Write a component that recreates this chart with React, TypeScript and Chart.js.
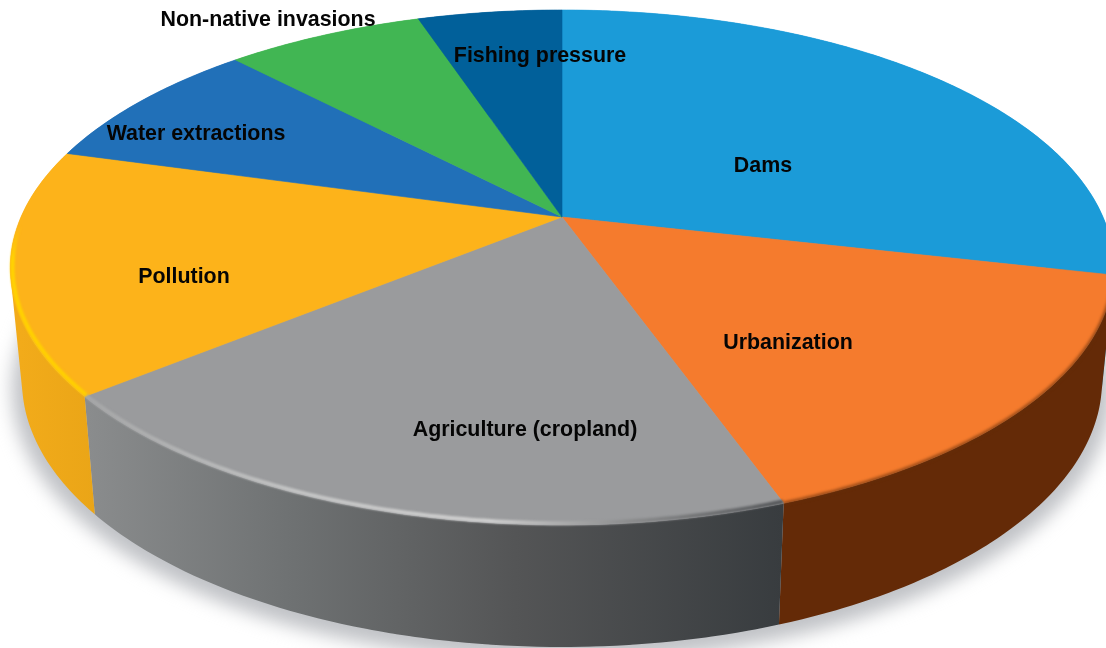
import { useEffect, useRef } from "react";
import { Chart, PieController, ArcElement } from "chart.js";

Chart.register(PieController, ArcElement);

// Share of pressure on freshwater systems, clockwise from twelve o'clock.
const categories = [
  "Dams",
  "Urbanization",
  "Agriculture (cropland)",
  "Pollution",
  "Water extractions",
  "Non-native invasions",
  "Fishing pressure",
];
const shares = [28.6, 15.98, 19.47, 15.3, 8.55, 7.0, 5.1];
const topColors = ["#1b9bd8", "#f57b2d", "#9a9b9d", "#fdb31a", "#2170b8", "#41b653", "#01609a"];

// Where each category name sits on the page.
const labelCentres: [number, number][] = [
  [763, 166.5],
  [788, 343.5],
  [525, 430],
  [184, 277.5],
  [196, 134],
  [268, 20],
  [540, 56.5],
];

// Tilted-disc geometry: a homography takes the unit circle to the top ellipse,
// so the pie's apex lands above the ellipse's centre.
const APEX = { x: 562, y: 217 };
const TILT = -0.196;
const SCALE_X = 541;
const SCALE_Y = 247.6;
const TOP = { cy: 267.5, rx: SCALE_X / Math.sqrt(1 - TILT * TILT), ry: 257.5 };
const BASE = { cy: 381, rx: 540, ry: 266 };

type Pt = { x: number; y: number };

function topPoint(theta: number): Pt {
  const u = Math.sin(theta);
  const v = -Math.cos(theta);
  const w = 1 + TILT * v;
  return { x: APEX.x + (SCALE_X * u) / w, y: APEX.y + (SCALE_Y * v) / w };
}

function basePoint(theta: number): Pt {
  const p = topPoint(theta);
  return {
    x: APEX.x + ((p.x - APEX.x) / TOP.rx) * BASE.rx,
    y: BASE.cy + ((p.y - TOP.cy) / TOP.ry) * BASE.ry,
  };
}

function rim(fn: (t: number) => Pt, from: number, to: number): Pt[] {
  const steps = Math.max(4, Math.ceil(Math.abs(to - from) / 0.01));
  const pts: Pt[] = [];
  for (let i = 0; i <= steps; i++) pts.push(fn(from + ((to - from) * i) / steps));
  return pts;
}

function trace(ctx: CanvasRenderingContext2D, pts: Pt[], move = true) {
  pts.forEach((p, i) => {
    if (i === 0 && move) ctx.moveTo(p.x, p.y);
    else ctx.lineTo(p.x, p.y);
  });
}

function signedArea(poly: Pt[]): number {
  let sum = 0;
  poly.forEach((p, i) => {
    const q = poly[(i + 1) % poly.length];
    sum += p.x * q.y - q.x * p.y;
  });
  return sum;
}

function sideFill(ctx: CanvasRenderingContext2D, index: number): string | CanvasGradient {
  if (index === 1) return "#642a07";
  const g = ctx.createLinearGradient(20, 0, 782, 0);
  if (index === 2) {
    g.addColorStop(0.08, "#8b8d8e");
    g.addColorStop(0.35, "#6f7273");
    g.addColorStop(0.65, "#545556");
    g.addColorStop(1, "#383c3f");
    return g;
  }
  if (index === 3) {
    g.addColorStop(0, "#f2ab1a");
    g.addColorStop(0.1, "#eaa517");
    return g;
  }
  return topColors[index];
}

const discPlugin = {
  id: "tiltedDisc",
  beforeDatasetsDraw(chart: Chart) {
    const ctx = chart.ctx;
    const arcs = chart.getDatasetMeta(0).data as any[];
    const angle = (a: number) => a + Math.PI / 2;

    ctx.save();
    // Soft contact shadow under the disc.
    ctx.save();
    ctx.filter = "blur(9px)";
    ctx.fillStyle = "#c0c2c6";
    ctx.beginPath();
    ctx.ellipse(APEX.x, BASE.cy + 8, BASE.rx + 10, BASE.ry + 6, 0, 0, Math.PI * 2);
    ctx.fill();
    ctx.restore();

    // Outer wall of each slice: overlapping strips wound the same way and joined
    // into one path, so the silhouette stays convex and no seams show.
    arcs.forEach((arc, i) => {
      const tops = rim(topPoint, angle(arc.startAngle), angle(arc.endAngle));
      const bases = rim(basePoint, angle(arc.startAngle), angle(arc.endAngle));
      ctx.fillStyle = sideFill(ctx, i);
      ctx.beginPath();
      for (let s = 0; s < tops.length - 1; s += 1) {
        const far = Math.min(s + 2, tops.length - 1);
        const strip = [tops[s], tops[far], bases[far], bases[s]];
        if (signedArea(strip) < 0) strip.reverse();
        trace(ctx, strip);
        ctx.closePath();
      }
      ctx.fill("nonzero");
    });

    // Top face of each slice.
    arcs.forEach((arc) => {
      const a = angle(arc.startAngle);
      const b = angle(arc.endAngle);
      ctx.beginPath();
      ctx.moveTo(APEX.x, APEX.y);
      trace(ctx, rim(topPoint, a, b), false);
      ctx.closePath();
      ctx.fillStyle = arc.options.backgroundColor;
      ctx.strokeStyle = arc.options.backgroundColor;
      ctx.lineWidth = 0.6;
      ctx.fill();
      ctx.stroke();
    });

    // Bevelled edges along the front of the disc.
    const bevel = (i: number, inset: number, width: number, blur: number, paint: string | CanvasGradient) => {
      const arc = arcs[i];
      ctx.save();
      ctx.filter = `blur(${blur}px)`;
      ctx.lineCap = "butt";
      ctx.lineWidth = width;
      ctx.strokeStyle = paint;
      ctx.beginPath();
      const edge = rim(topPoint, angle(arc.startAngle), angle(arc.endAngle)).map((p) => ({
        x: APEX.x + (p.x - APEX.x) * (1 - inset / 500),
        y: APEX.y + (p.y - APEX.y) * (1 - inset / 260),
      }));
      trace(ctx, edge);
      ctx.stroke();
      ctx.restore();
    };

    bevel(1, 0, 3, 1.4, "rgba(100,45,10,0.7)");

    const grey = ctx.createLinearGradient(85, 0, 782, 0);
    grey.addColorStop(0, "#a5a6a7");
    grey.addColorStop(0.3, "#c4c5c5");
    grey.addColorStop(0.58, "#d0d0d0");
    grey.addColorStop(0.78, "#8b8c8d");
    grey.addColorStop(1, "#55575a");
    bevel(2, 1.5, 4, 1.2, grey);

    const amber = ctx.createLinearGradient(0, 225, 0, 395);
    amber.addColorStop(0, "rgba(255,210,0,0)");
    amber.addColorStop(0.2, "#ffd400");
    amber.addColorStop(1, "#ffd000");
    bevel(3, 2, 4, 0.8, amber);

    ctx.restore();
  },
  // The disc above replaces the flat pie rendering.
  beforeDatasetDraw() {
    return false;
  },
  afterDraw(chart: Chart) {
    const ctx = chart.ctx;
    ctx.save();
    ctx.font = 'bold 21.4px "Liberation Sans", Arial, sans-serif';
    ctx.fillStyle = "#050505";
    ctx.textAlign = "center";
    ctx.textBaseline = "middle";
    (chart.data.labels as string[]).forEach((name, i) => {
      const [x, y] = labelCentres[i];
      ctx.fillText(name, x, y);
    });
    ctx.restore();
  },
};

export default function App() {
  const ref = useRef<HTMLCanvasElement>(null);

  useEffect(() => {
    const chart = new Chart(ref.current as HTMLCanvasElement, {
      type: "pie",
      data: {
        labels: categories,
        datasets: [{ data: shares, backgroundColor: topColors, borderWidth: 0 }],
      },
      options: {
        responsive: false,
        animation: false,
        events: [],
        plugins: { legend: { display: false }, tooltip: { enabled: false } },
      },
      plugins: [discPlugin],
    } as any);
    return () => chart.destroy();
  }, []);

  return (
    <div style={{ position: "fixed", left: 0, top: 0, width: 1106, height: 648, overflow: "hidden", background: "#fff" }}>
      <canvas ref={ref} width={1106} height={648} style={{ display: "block" }} />
    </div>
  );
}
